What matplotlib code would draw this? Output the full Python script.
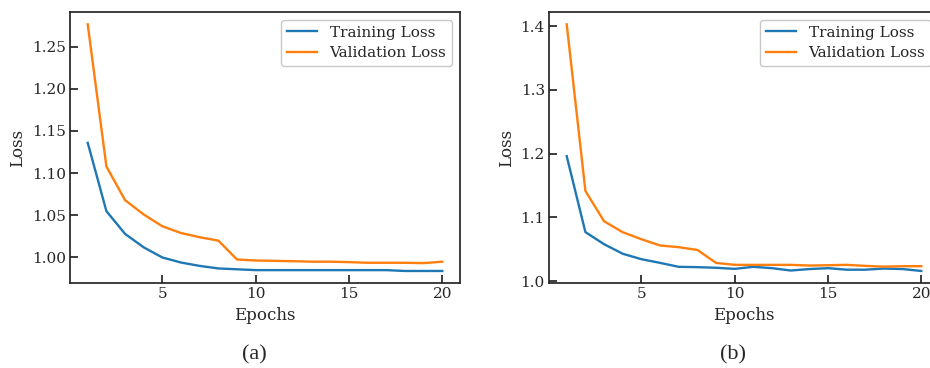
import matplotlib
matplotlib.use("Agg")
import matplotlib.pyplot as plt
import numpy as np

epochs = list(range(1, 21))

train_a = [1.136, 1.055, 1.028, 1.012, 1.000, 0.994, 0.990, 0.987, 0.986, 0.985,
           0.985, 0.985, 0.985, 0.985, 0.985, 0.985, 0.985, 0.984, 0.984, 0.984]
val_a = [1.2765, 1.108, 1.068, 1.051, 1.037, 1.029, 1.024, 1.020, 0.9976, 0.9964,
         0.996, 0.9956, 0.995, 0.995, 0.9945, 0.9937, 0.9937, 0.9937, 0.9933, 0.995]

train_b = [1.196, 1.077, 1.058, 1.043, 1.0345, 1.0287, 1.0225, 1.022, 1.021, 1.0193,
           1.0225, 1.0204, 1.0167, 1.019, 1.0204, 1.018, 1.018, 1.0198, 1.019, 1.016]
val_b = [1.4028, 1.1416, 1.094, 1.0768, 1.0658, 1.056, 1.0533, 1.049, 1.0287, 1.0256,
         1.0256, 1.0256, 1.0256, 1.0245, 1.025, 1.0256, 1.024, 1.0228, 1.0235, 1.0235]

yticks_a = [1.00, 1.05, 1.10, 1.15, 1.20, 1.25]
yticks_b = [1.0, 1.1, 1.2, 1.3, 1.4]
xticks = [5, 10, 15, 20]
panel_labels = ["(a)", "(b)"]

plt.rcParams['font.family'] = ['DejaVu Serif']
plt.rcParams['axes.edgecolor'] = '#262626'
plt.rcParams['xtick.color'] = '#262626'
plt.rcParams['ytick.color'] = '#262626'
plt.rcParams['text.color'] = '#262626'
plt.rcParams['axes.labelcolor'] = '#262626'

W, H = 930, 368
fig = plt.figure(figsize=(W / 100, H / 100), dpi=100)

def px_rect(left, top, right, bottom):
    return [left / W, 1 - bottom / H, (right - left) / W, (bottom - top) / H]

axes = [fig.add_axes(px_rect(70, 12, 460, 283.3)),
        fig.add_axes(px_rect(549, 12, 939, 283.3))]

data = [(train_a, val_a, yticks_a, "{:.2f}"), (train_b, val_b, yticks_b, "{:.1f}")]

for ax, (tr, va, yt, fmt) in zip(axes, data):
    ax.plot(epochs, tr, color='#1f77b4', lw=1.7, label='Training Loss')
    ax.plot(epochs, va, color='#ff7f0e', lw=1.7, label='Validation Loss')
    ax.set_xticks(xticks)
    ax.set_yticks(yt)
    ax.set_yticklabels([fmt.format(v) for v in yt])
    ax.tick_params(direction='in', length=6, width=1.25, labelsize=11, pad=3)
    for s in ax.spines.values():
        s.set_linewidth(1.25)
    ax.set_xlabel('Epochs', fontsize=12, labelpad=4)
    ax.set_ylabel('Loss', fontsize=12, labelpad=4)
    leg = ax.legend(loc='upper right', fontsize=11, frameon=True, fancybox=True,
                    edgecolor='#c8c8c8', framealpha=1, borderpad=0.4,
                    handlelength=2.0, labelspacing=0.4, borderaxespad=0.5)
    leg.get_frame().set_linewidth(1.0)

fig.text(254 / W, 1 - 355 / H, panel_labels[0], ha='center', va='center',
         fontsize=16, family=['Liberation Serif'])
fig.text(733 / W, 1 - 355 / H, panel_labels[1], ha='center', va='center',
         fontsize=16, family=['Liberation Serif'])

fig.savefig('out.png', dpi=100)
